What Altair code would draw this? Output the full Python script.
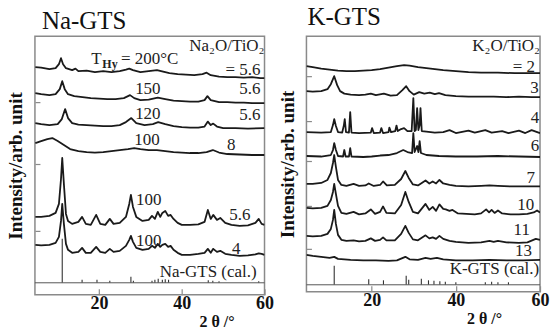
import altair as alt
import pandas as pd

FONT = "Liberation Serif"
INK = "#1a1a1a"
FRAME = "#8a8a8a"

# ---------------- Na-GTS panel (2theta / deg, intensity / arb. unit, stacked) ----------------
na_200_x = [4.6, 6, 8, 9.5, 10.3, 10.8, 11.3, 12, 13.5, 14.3, 15, 17, 19, 21, 23, 25, 26.5, 27.3, 28.2, 30, 32, 34, 35.5, 37, 39, 41, 43, 45, 46, 47, 49, 51, 53, 55, 57, 59, 60]
na_200_y = [228, 227.5, 226, 227, 231, 237, 231, 227, 225, 226.5, 224, 224.5, 223, 224, 223, 224, 225.5, 226.5, 225, 223, 224, 225, 223.5, 222, 221, 220.5, 220, 221, 222.5, 220, 218.5, 218, 218, 217.5, 218, 217, 217]

na_150_x = [4.6, 6, 8, 9.5, 10.5, 11.1, 11.7, 12.5, 14, 16, 18, 20, 22, 24, 26, 27.5, 28.5, 30, 32, 34.2, 36, 38, 40, 42, 44, 45.5, 46.2, 47, 49, 51, 53, 55, 57, 60]
na_150_y = [202, 201, 200, 201, 206, 214, 206, 201, 199, 198, 197, 196.5, 196, 196, 197, 200, 197, 195, 195.5, 197.5, 196, 194.5, 194, 193.5, 193.5, 195, 199, 195, 193, 193, 192.5, 192.5, 192, 192]

na_120_x = [4.6, 6, 8, 10, 11, 11.8, 12.5, 13.5, 15, 17, 19, 21, 23, 25, 26.5, 27.8, 29, 31, 33, 34.3, 36, 38, 40, 42, 44, 45.5, 46.3, 47, 47.6, 48.5, 50, 53, 56, 60]
na_120_y = [172, 171, 170, 171, 176, 186, 177, 172, 170.5, 170, 169.5, 169, 169, 170, 173, 177, 172, 170, 171, 173, 171, 169, 168, 167.5, 167.5, 168.5, 173.5, 170, 171.5, 168.5, 167, 167, 166.5, 167]

na_100r8_x = [4.6, 6, 7.5, 8.7, 10, 11.5, 13, 15, 17, 19, 21, 23, 25, 27, 28.5, 30, 32, 34, 36, 38, 40, 42, 44, 46, 47.5, 49, 51, 54, 57, 60]
na_100r8_y = [152, 154, 156, 157, 154, 150, 146, 144, 143, 142.5, 143, 144, 145, 146, 147, 146, 145, 145, 144, 143, 142.5, 142, 142, 143, 145, 142.5, 141, 140.5, 140, 140]

na_low_x = [4.6, 6, 8, 9.5, 10.3, 10.8, 11.1, 11.5, 12, 12.5, 13.5, 15, 15.9, 16.8, 18, 19.3, 20.3, 21.5, 22.6, 23.5,
            25, 26.5, 27.3, 27.7, 28.2, 29, 30.5, 32, 32.8, 33.5, 34.2, 34.8, 35.3, 36, 36.7, 37.3, 38, 39, 40, 42,
            44, 45.5, 46.3, 47, 47.6, 48.5, 49.3, 50.5, 52, 54, 56, 57.8, 58.6, 59.3, 60]
na_100r56_y = [78, 78, 79, 82, 91, 116, 137, 111, 81, 74, 71, 73, 78, 71, 70, 80, 71, 70, 76, 71,
               72, 78, 91, 100, 88, 78, 74, 75, 79, 76, 83, 78, 82, 84, 79, 80, 76, 72, 70, 70,
               70.5, 73, 85, 76, 80, 75, 77, 72, 70, 69, 69.5, 72, 76, 71, 70]
na_100r4_y = [50, 49.5, 50, 52, 58, 74, 91, 71, 51, 45, 42, 43, 47, 42, 42, 48, 43, 42, 46, 43,
              44, 49, 55, 59, 53, 47, 45, 46, 49, 47, 51, 48, 50, 51, 48, 49, 45, 42, 40, 40,
              41, 42, 46, 42, 46, 43, 44, 41, 40, 39, 39.5, 40.5, 41.5, 41, 40]

na_cal_base = 12
na_cal_x = [11.1, 15.9, 19.5, 22.6, 27.7, 28.3, 32.8, 33.5, 34.3, 35.3, 36, 36.8, 46.4, 47.5, 49, 58.6]
na_cal_top = [56, 15, 15, 14, 18, 14, 14, 15, 16, 15, 15.5, 15, 14.5, 14, 13.5, 13.5]

na_label_text = ["Na₂O/TiO₂", "= 5.6", "150", "5.6", "120", "5.6", "100", "8", "100", "5.6", "100", "4", "Na-GTS (cal.)", "T", "= 200°C"]
na_label_x = [60.0, 59.0, 31.8, 59.0, 31.8, 59.0, 31.6, 53.0, 32.0, 56.6, 32.0, 54.2, 58.1, 18.1, 25.3]
na_label_y = [249, 225, 206, 206, 181, 180, 155, 150, 95, 80, 54, 46, 23, 236, 236]
na_label_align = ["right", "right", "center", "right", "center", "right", "center", "right", "center", "right", "center", "right", "right", "left", "left"]
na_sub_text = ["Hy"]
na_sub_x = [20.8]
na_sub_y = [231]
na_yticks = [193, 131, 64]

# ---------------- K-GTS panel ----------------
k2_x = [4.5, 6, 8, 10, 12, 14, 16, 18, 20, 22, 24, 26, 27.7, 29, 31, 33, 35, 37, 40, 43, 46, 50, 54, 57, 60]
k2_y = [226, 225, 223.5, 222.5, 221.5, 221, 221, 221.5, 222, 223, 224.5, 226, 227, 226.5, 225, 224, 223, 222, 221, 220, 219.5, 219.5, 219, 219, 219]

k3_x = [4.5, 6, 8, 9.5, 10.3, 11.1, 11.8, 12.5, 13.5, 15, 17, 18.5, 19.8, 21, 22.9, 24.5, 26, 27.3, 28.2, 29,
        30, 31.3, 32.5, 33.8, 35, 36, 37.5, 40, 43, 46, 49, 52, 55, 58, 60]
k3_y = [201, 200.5, 201, 203, 208, 216, 207, 201, 198.5, 197.5, 197, 197.5, 198.5, 197, 198.5, 196.5, 197, 202, 206, 201,
        197.5, 200, 198.5, 199.5, 198, 199, 197, 196, 195.5, 195.5, 195.5, 195, 195.5, 195, 195]

k4_x = [4.5, 8, 10.3, 10.8, 11.1, 11.5, 12, 13, 13.4, 13.6, 13.9, 14.6, 14.9, 15.2, 17, 19.8, 20.1, 20.5, 22, 22.3,
        22.7, 24, 24.2, 24.6, 25.6, 25.9, 26.2, 27, 27.7, 28.5, 29.5, 29.9, 30.2, 30.5, 30.8, 31.1, 31.4, 31.6, 31.9, 33,
        35, 37, 38.5, 40, 43, 44.5, 47, 48.5, 51, 52.5, 55, 56.5, 58, 60]
k4_y = [160, 159.5, 160, 167, 173, 166, 160, 159.5, 167, 173, 160, 159.5, 180, 159.5, 159, 159.5, 164, 159, 159.5, 164,
        159, 160, 164.5, 160, 161, 166.5, 161, 163, 164, 161, 161, 194, 161, 162, 184, 162, 167, 184, 161, 160.5,
        159.5, 160, 162, 159, 161.5, 159.5, 162, 159.5, 161, 159, 161.5, 159, 162, 159]

k6_x = [4.5, 8, 10.3, 10.8, 11.1, 11.5, 12, 13.2, 13.5, 13.8, 14.6, 14.9, 15.2, 18, 20, 22, 24, 26, 27.5, 28.5,
        29.6, 29.9, 30.2, 30.8, 31.1, 31.4, 31.7, 33, 36, 40, 45, 50, 55, 60]
k6_y = [136, 135.5, 137, 142, 149, 142, 136, 135.5, 142, 135.5, 135.5, 144, 135.5, 135, 135.5, 136.5, 137, 139, 142, 140,
        139, 159, 140, 146, 140, 151, 139, 137, 136, 135.5, 135.5, 136, 135.5, 135]

k7_x = [4.5, 6, 8, 9.5, 10.3, 10.8, 11.1, 11.5, 12, 12.8, 14, 15.7, 17, 18.5, 19.3, 20.5, 22, 22.7, 23.6, 25.5,
        27, 28, 28.8, 29.8, 31, 32.8, 33.7, 34.5, 35.3, 36.1, 37, 38.5, 40, 43, 46, 48, 50, 53, 56, 60]
k7_y = [108, 108, 109, 112, 119, 129, 137, 125, 112, 107, 106, 108, 106, 106.5, 108.5, 106, 107, 110.5, 106.5, 107,
        113, 121, 114, 107.5, 106.5, 111.5, 108.5, 110.5, 108.5, 112, 108.5, 107, 106, 105.5, 106, 106.5, 106, 105.5, 105.5, 105.5]

k10_x = [4.5, 6, 8, 9.5, 10.3, 10.8, 11.1, 11.5, 12, 12.8, 14, 15.7, 17, 18.5, 19.8, 20.8, 22, 22.7, 23.5, 25.5,
         27, 28, 28.8, 29.8, 31, 32.8, 33.7, 34.5, 35.3, 36.1, 37, 37.6, 38.5, 39.2, 40.5, 42.5, 44.5, 46, 47.2, 47.9,
         48.5, 49.2, 50, 51, 53, 55, 57, 58.5, 59.3, 60]
k10_y = [84, 83.5, 84, 86, 92, 100, 108, 98, 86, 79, 78, 80, 77.5, 78.5, 82.5, 78, 80, 85.5, 79, 78.5,
         87, 100, 90, 80, 78.5, 88, 82, 85, 81, 87.5, 83, 82.5, 81, 82, 78.5, 78, 77.5, 78.5, 82.5, 79.5,
         82, 79, 81.5, 78.5, 77.5, 77.5, 78, 79.5, 81.5, 79.5]

k11_x = [4.5, 6, 8, 9.5, 10.3, 10.8, 11.1, 11.5, 12, 12.8, 14, 15.7, 17, 18.5, 19.8, 20.8, 22, 22.7, 23.5, 25.5,
         27, 28, 28.8, 29.8, 31, 32.8, 33.7, 34.5, 35.3, 36.1, 37, 38.5, 40, 43, 46, 48, 49, 50, 52, 55, 57, 59, 60]
k11_y = [56, 55.5, 56, 58, 63, 72, 82, 68, 57, 52, 51, 51.5, 50.5, 51, 53.5, 51, 52, 54.5, 51.5, 51.5,
         58, 66, 59, 52.5, 51.5, 56.5, 53.5, 54.5, 53, 56, 53, 51, 50, 49, 49.5, 51, 50, 51, 49.5, 49, 49.5, 53, 52]

k13_x = [4.5, 6, 8, 10, 11.1, 12, 15, 18, 21, 24, 26, 28, 29, 31, 32.8, 34, 35.5, 37, 40, 44, 48, 52, 56, 60]
k13_y = [37, 36, 35, 34, 35, 33, 32, 31.5, 31.5, 31, 31.5, 35, 32.5, 32, 34, 33, 34, 32.5, 31.5, 31.5, 32, 31.5, 31.5, 32]

k_cal_base = 7
k_cal_x = [11.1, 19.3, 22.8, 28.2, 28.8, 31.8, 33.5, 34.8, 36.2, 37.5, 40, 47, 48.5, 50, 52.5]
k_cal_top = [26, 12.5, 11.5, 16, 12, 13, 11.5, 11, 10.5, 10, 9.5, 9.5, 10, 9.5, 9.5]

k_label_text = ["K₂O/TiO₂", "= 2", "3", "4", "6", "7", "10", "11", "13", "K-GTS (cal.)"]
k_label_x = [60.0, 58.8, 59.7, 59.8, 59.8, 58.8, 58.6, 57.6, 58.1, 59.8]
k_label_y = [246, 225, 204, 174.5, 146.5, 114, 87, 62, 41, 22.5]
k_label_align = ["right"] * 10
k_yticks = [216, 171, 131, 86, 43]

X_DOMAIN = [4.5, 60]
X_TICKS = [20, 40, 60]


def make_panel(series, cal_x, cal_top, cal_base, lab_t, lab_x, lab_y, lab_a,
               sub_t, sub_x, sub_y, yticks, ymax, width, height, title, title_offset,
               title_dx, xtitle_x):
    rows = []
    for name, xs, ys in series:
        for a, b in zip(xs, ys):
            rows.append({"t": a, "I": b, "s": name})
    df = pd.DataFrame(rows)
    xsc = alt.Scale(domain=X_DOMAIN, nice=False, zero=False)
    ysc = alt.Scale(domain=[0, ymax], nice=False, zero=False)
    xax = alt.Axis(values=X_TICKS, title="2 θ /°", titleFont=FONT, titleFontSize=16,
                   titleFontWeight="bold", titleColor="#111", titleX=xtitle_x, titleY=33,
                   titleAlign="center", titleBaseline="middle",
                   labelFont=FONT, labelFontSize=18, labelFontWeight="bold", labelColor="#111",
                   labelPadding=0, labelFlush=False, labelOverlap=False,
                   tickSize=6, tickColor=FRAME, tickWidth=1.2, offset=-6,
                   domain=False, grid=False)
    yax = alt.Axis(values=yticks, labels=False, tickSize=5, tickColor=FRAME, tickWidth=1.2,
                   offset=-5, domain=False, grid=False, title="Intensity/arb. unit",
                   titleFont=FONT, titleFontSize=19, titleFontWeight="bold", titleColor="#111",
                   titleX=-24, titleY=height / 2, titleAlign="center", titleBaseline="middle",
                   titleAngle=270)
    lines = alt.Chart(df).mark_line(color=INK, strokeWidth=1.8, clip=True,
                                    strokeJoin="round").encode(
        x=alt.X("t:Q", scale=xsc, axis=xax),
        y=alt.Y("I:Q", scale=ysc, axis=yax),
        detail="s:N",
        order="t:Q",
    )
    cal = pd.DataFrame({"t": cal_x, "top": cal_top, "base": [cal_base] * len(cal_x)})
    sticks = alt.Chart(cal).mark_rule(color="#333", strokeWidth=1.1).encode(
        x="t:Q", y="top:Q", y2="base:Q")
    base_df = pd.DataFrame({"x0": [X_DOMAIN[0]], "x1": [X_DOMAIN[1]], "b": [cal_base]})
    baseline = alt.Chart(base_df).mark_rule(color="#555", strokeWidth=1).encode(
        x="x0:Q", x2="x1:Q", y="b:Q")
    lab = pd.DataFrame({"t": lab_x, "I": lab_y, "txt": lab_t, "a": lab_a})
    layers = [lines, sticks, baseline]
    for al in ["left", "center", "right"]:
        layers.append(
            alt.Chart(lab).transform_filter(alt.datum.a == al)
            .mark_text(font=FONT, fontSize=17, color="#222", align=al, baseline="middle")
            .encode(x="t:Q", y="I:Q", text="txt:N"))
    if sub_t:
        sub = pd.DataFrame({"t": sub_x, "I": sub_y, "txt": sub_t})
        layers.append(
            alt.Chart(sub).mark_text(font=FONT, fontSize=12, color="#222", align="left",
                                     baseline="middle", fontWeight="bold")
            .encode(x="t:Q", y="I:Q", text="txt:N"))
    return alt.layer(*layers).properties(
        width=width, height=height,
        title=alt.TitleParams(title, font=FONT, fontSize=25, fontWeight="normal",
                              anchor="start", frame="group", offset=title_offset,
                              dx=title_dx, color="#111"))


left = make_panel(
    [("200", na_200_x, na_200_y), ("150", na_150_x, na_150_y), ("120", na_120_x, na_120_y),
     ("100r8", na_100r8_x, na_100r8_y), ("100r56", na_low_x, na_100r56_y), ("100r4", na_low_x, na_100r4_y)],
    na_cal_x, na_cal_top, na_cal_base, na_label_text, na_label_x, na_label_y, na_label_align,
    na_sub_text, na_sub_x, na_sub_y, na_yticks, 259, 230, 259, "Na-GTS", 2, 7, 182)

right = make_panel(
    [("2", k2_x, k2_y), ("3", k3_x, k3_y), ("4", k4_x, k4_y), ("6", k6_x, k6_y), ("7", k7_x, k7_y),
     ("10", k10_x, k10_y), ("11", k11_x, k11_y), ("13", k13_x, k13_y)],
    k_cal_x, k_cal_top, k_cal_base, k_label_text, k_label_x, k_label_y, k_label_align,
    [], [], [], k_yticks, 256, 234, 256, "K-GTS", 6, 1, 178)

chart = alt.hconcat(left, right, spacing=3).properties(
    padding={"left": 6, "top": 4, "right": 0, "bottom": 0},
    background="white",
).configure_view(stroke=FRAME, strokeWidth=1.5).configure_concat(spacing=3)

chart.save("out.html", embed_options={"renderer": "svg", "actions": False})
